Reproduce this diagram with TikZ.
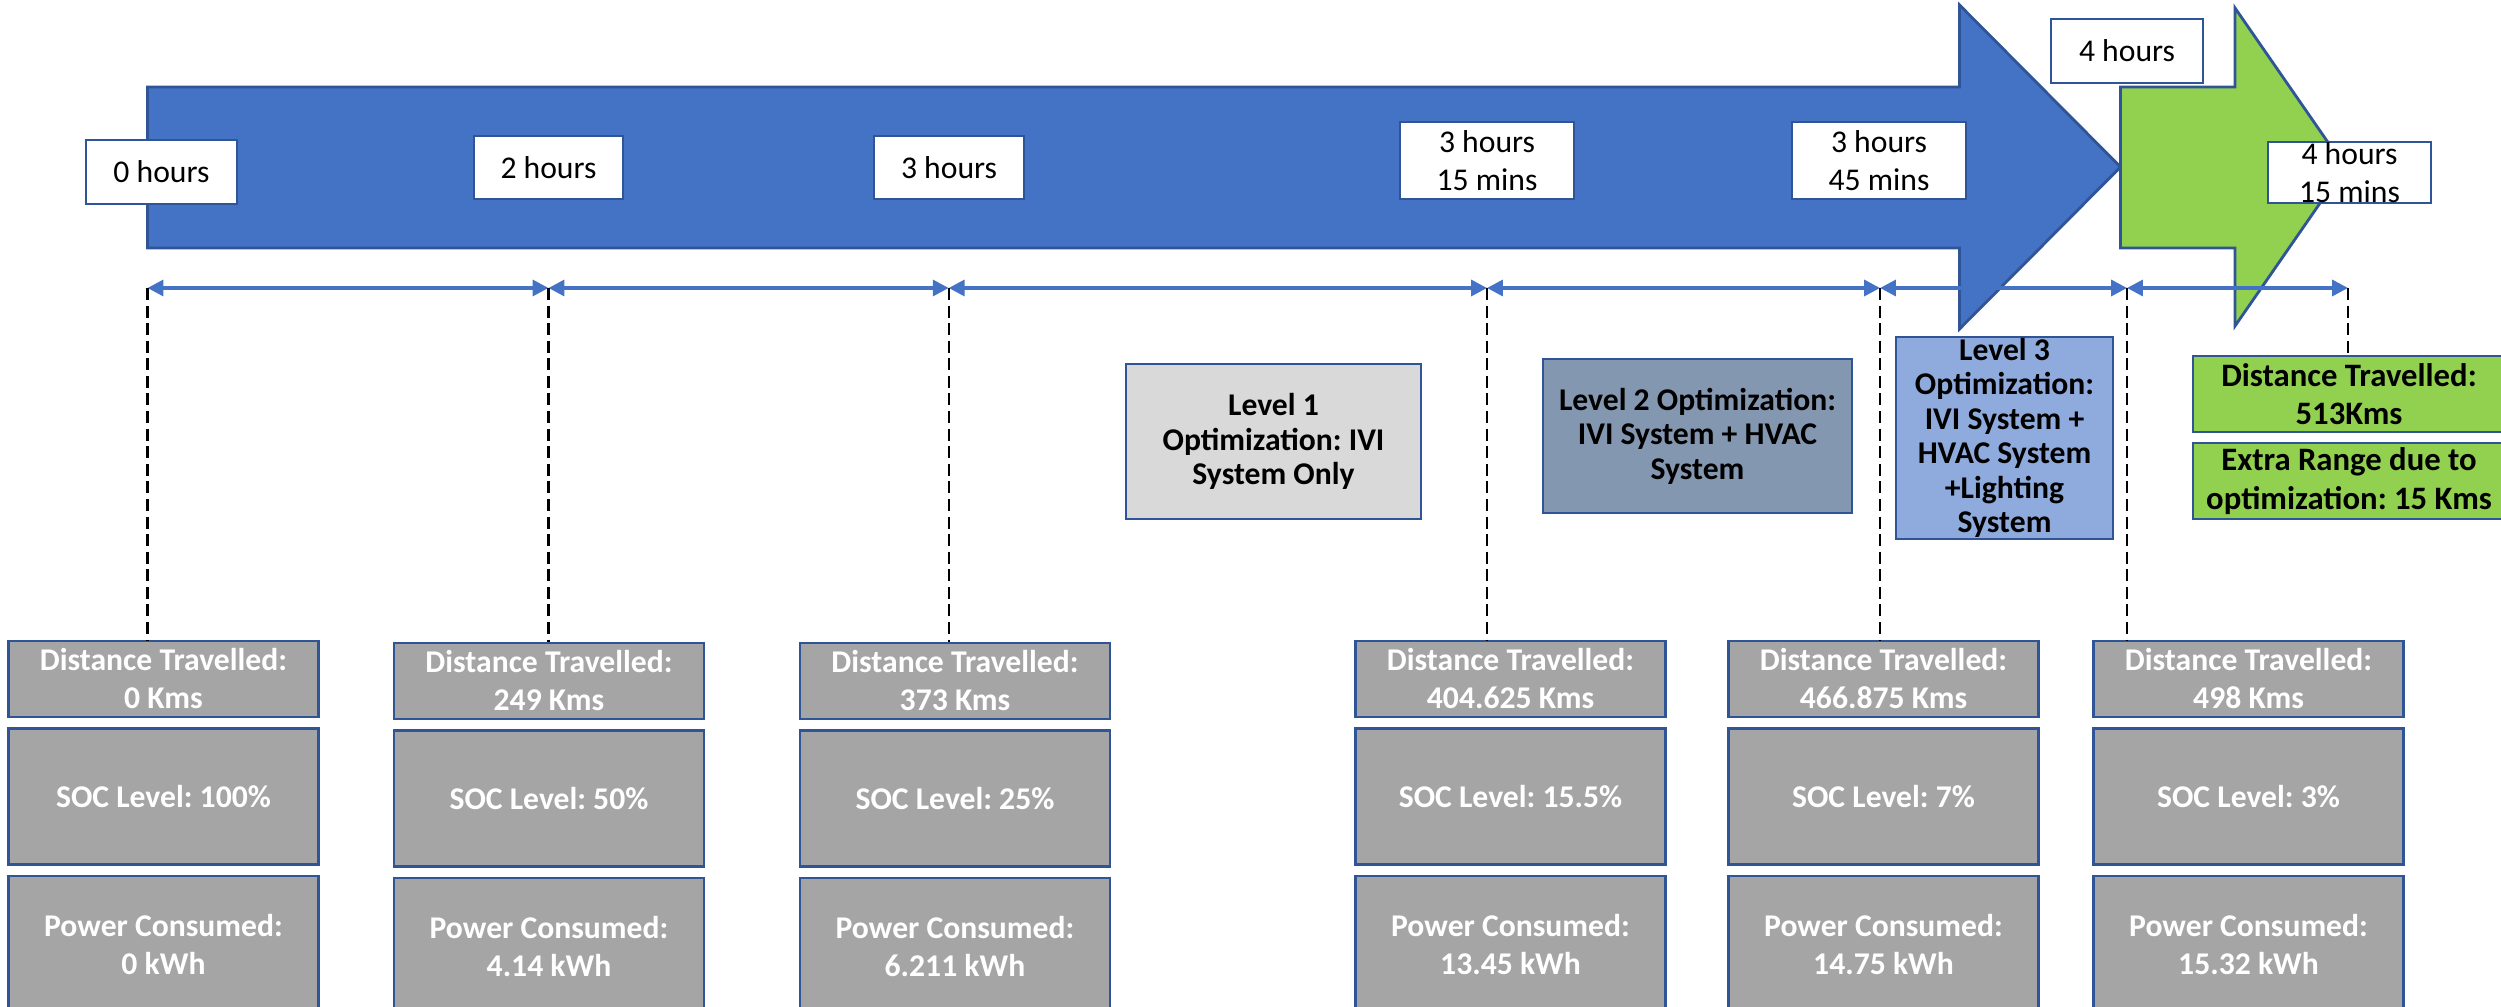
\documentclass[tikz,border=0pt]{standalone}
\usepackage{fontspec}
\setmainfont{Carlito}
\usetikzlibrary{arrows.meta,positioning}
\frenchspacing

\definecolor{arrowblue}{HTML}{4472C4}
\definecolor{edgeblue}{HTML}{2F5597}
\definecolor{boxgray}{HTML}{A5A5A5}
\definecolor{levelone}{HTML}{D9D9D9}
\definecolor{leveltwo}{HTML}{8497B0}
\definecolor{levelthree}{HTML}{8FAADC}
\definecolor{rangegreen}{HTML}{92D050}

\begin{document}
\begin{tikzpicture}[
  x=0.01cm, y=-0.01cm,
  >={Triangle[length=4.5pt,width=4.5pt]},
  timebox/.style={draw=edgeblue, line width=0.7pt, fill=white, align=center, inner sep=1pt,
    font=\fontsize{9}{10.8}\selectfont},
  statbox/.style={draw=edgeblue, line width=0.7pt, fill=boxgray, text=white, align=center,
    minimum width=3.1cm, inner sep=1pt, font=\fontsize{9}{10.8}\selectfont\bfseries},
  distbox/.style={statbox, minimum height=0.76cm},
  valbox/.style={statbox, minimum height=1.36cm},
  levelbox/.style={draw=edgeblue, line width=0.7pt, align=center, inner sep=0pt,
    font=\fontsize{9}{9.8}\selectfont\bfseries},
  rangebox/.style={draw=edgeblue, line width=0.7pt, fill=rangegreen, align=center,
    minimum width=3.12cm, minimum height=0.76cm, inner sep=1pt,
    font=\fontsize{9.3}{10.9}\selectfont\bfseries},
  timeline/.style={arrowblue, line width=1pt, <->},
  guide/.style={dash pattern=on 3.4pt off 1.6pt, line width=0.6pt}
]
\useasboundingbox (0,0) rectangle (2501,1007);

% Big arrows
\draw[draw=edgeblue, line width=0.8pt, fill=arrowblue]
  (147.5,87) -- (1959.5,87) -- (1959.5,5) -- (2120.5,167) -- (1959.5,329)
  -- (1959.5,248) -- (147.5,248) -- cycle;
\draw[draw=edgeblue, line width=0.8pt, fill=rangegreen]
  (2120.5,87) -- (2235,87) -- (2235,8) -- (2345,167) -- (2235,326)
  -- (2235,248) -- (2120.5,248) -- cycle;

% Time labels
\node[timebox, minimum width=1.51cm, minimum height=0.64cm] (h0) at (161.5,172) {0 hours};
\node[timebox, minimum width=1.49cm, minimum height=0.63cm] (h1) at (548.5,167.5) {2 hours};
\node[timebox, minimum width=1.5cm, minimum height=0.63cm] (h2) at (949,167.5) {3 hours};
\node[timebox, minimum width=1.74cm, minimum height=0.77cm] (h3) at (1487,160.5) {3 hours\\15 mins};
\node[timebox, minimum width=1.74cm, minimum height=0.77cm] (h4) at (1879,160.5) {3 hours\\45 mins};
\node[timebox, minimum width=1.52cm, minimum height=0.64cm] (h5) at (2127,51) {4 hours};
\node[timebox, minimum width=1.63cm, minimum height=0.61cm, inner ysep=0pt] (h6) at (2349.5,172.5) {4 hours\\15 mins};

% Timeline
\coordinate (t0) at (147.5,288);
\coordinate (t1) at (548.5,288);
\coordinate (t2) at (948.7,288);
\coordinate (t3) at (1487,288);
\coordinate (t4) at (1880,288);
\coordinate (t5) at (2127,288);
\coordinate (t6) at (2348,288);
\draw[timeline] (t0) -- (t1);
\draw[timeline] (t1) -- (t2);
\draw[timeline] (t2) -- (t3);
\draw[timeline] (t3) -- (t4);
\draw[timeline] (t4) -- (t5);
\draw[timeline] (t5) -- (t6);

% Optimization levels
\node[levelbox, fill=levelone, minimum width=2.95cm, minimum height=1.55cm] (lvl1) at (1273.5,441.5)
  {Level 1\\Optimization: IVI\\System Only};
\node[levelbox, fill=leveltwo, minimum width=3.09cm, minimum height=1.54cm] (lvl2) at (1697.5,436)
  {Level 2 Optimization:\\IVI System + HVAC\\System};
\node[levelbox, fill=levelthree, minimum width=2.17cm, minimum height=2.02cm] (lvl3) at (2004.5,438)
  {Level 3\\Optimization:\\IVI System +\\HVAC System\\+Lighting\\System};

% Final range
\node[rangebox] (total) at (2349,394) {Distance Travelled:\\513Kms};
\node[rangebox] (extra) at (2349,481) {Extra Range due to\\optimization: 15 Kms};

% Readings per stop
\node[distbox] (dist1) at (163.5,679) {Distance Travelled:\\0 Kms};
\node[valbox, below=0.09cm of dist1] (soc1) {SOC Level: 100\%};
\node[valbox, below=0.09cm of soc1] (pow1) {Power Consumed:\\0 kWh};

\node[distbox] (dist2) at (549,681) {Distance Travelled:\\249 Kms};
\node[valbox, below=0.09cm of dist2] (soc2) {SOC Level: 50\%};
\node[valbox, below=0.09cm of soc2] (pow2) {Power Consumed:\\4.14 kWh};

\node[distbox] (dist3) at (955,681) {Distance Travelled:\\373 Kms};
\node[valbox, below=0.09cm of dist3] (soc3) {SOC Level: 25\%};
\node[valbox, below=0.09cm of soc3] (pow3) {Power Consumed:\\6.211 kWh};

\node[distbox] (dist4) at (1510.5,679) {Distance Travelled:\\404.625 Kms};
\node[valbox, below=0.09cm of dist4] (soc4) {SOC Level: 15.5\%};
\node[valbox, below=0.09cm of soc4] (pow4) {Power Consumed:\\13.45 kWh};

\node[distbox] (dist5) at (1883.5,679) {Distance Travelled:\\466.875 Kms};
\node[valbox, below=0.09cm of dist5] (soc5) {SOC Level: 7\%};
\node[valbox, below=0.09cm of soc5] (pow5) {Power Consumed:\\14.75 kWh};

\node[distbox] (dist6) at (2248.5,679) {Distance Travelled:\\498 Kms};
\node[valbox, below=0.09cm of dist6] (soc6) {SOC Level: 3\%};
\node[valbox, below=0.09cm of soc6] (pow6) {Power Consumed:\\15.32 kWh};

% Guides
\draw[guide] (t0) -- (t0 |- dist1.north);
\draw[guide] (t1) -- (t1 |- dist2.north);
\draw[guide] (t2) -- (t2 |- dist3.north);
\draw[guide] (t3) -- (t3 |- dist4.north);
\draw[guide] (t4) -- (t4 |- dist5.north);
\draw[guide] (t5) -- (t5 |- dist6.north);
\draw[guide] (t6) -- (t6 |- total.north);
\end{tikzpicture}
\end{document}
